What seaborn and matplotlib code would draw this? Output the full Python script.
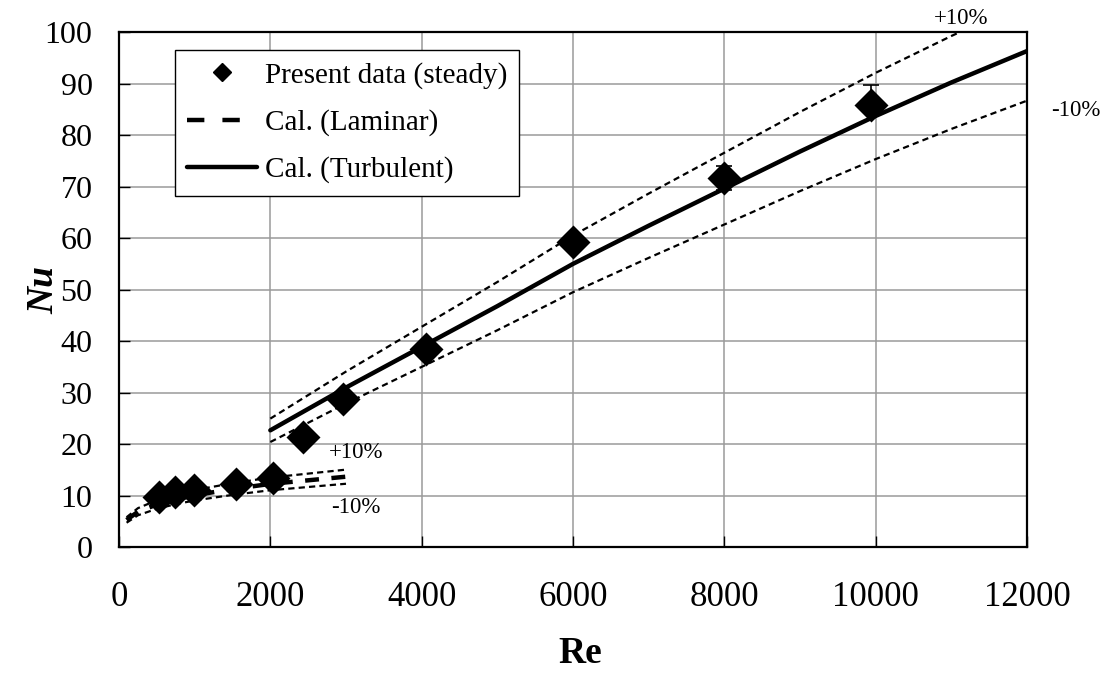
import numpy as np
import matplotlib
matplotlib.use("Agg")
import matplotlib.pyplot as plt
from matplotlib.lines import Line2D
import seaborn as sns

# ---- data ----
re_data = [530, 740, 985, 1545, 2035, 2430, 2960, 4060, 6000, 8000, 9940]
nu_data = [9.8, 10.8, 11.2, 12.3, 13.5, 21.4, 28.7, 38.4, 59.2, 71.7, 85.9]
nu_err_low = [0.0, 0.0, 0.0, 0.0, 0.0, 0.0, 0.0, 0.0, 0.0, 2.4, 1.5]
nu_err_high = [0.0, 0.0, 0.0, 0.0, 0.0, 0.0, 0.0, 0.0, 0.0, 2.3, 3.8]

re_lam = [100, 250, 500, 750, 1000, 1500, 2000, 2500, 3000]
nu_lam = [5.3, 6.9, 8.3, 9.3, 10.1, 11.3, 12.3, 13.0, 13.7]

re_turb = [2000, 3000, 4000, 5000, 6000, 7000, 8000, 9000, 10000, 11000, 12000]
nu_turb = [22.7, 31.0, 38.9, 46.8, 55.0, 62.4, 69.6, 76.8, 83.7, 90.2, 96.3]

band = 0.10  # +/-10 % bands around the correlations

x_ticks = [0, 2000, 4000, 6000, 8000, 10000, 12000]
y_ticks = [0, 10, 20, 30, 40, 50, 60, 70, 80, 90, 100]

legend_labels = ["Present data (steady)", "Cal. (Laminar)", "Cal. (Turbulent)"]

# ---- style ----
sns.set_theme(style="whitegrid")
plt.rcParams["font.family"] = ["Liberation Serif", "DejaVu Serif"]
plt.rcParams["lines.scale_dashes"] = False
plt.rcParams["text.color"] = "black"
plt.rcParams["axes.labelcolor"] = "black"
plt.rcParams["xtick.color"] = "black"
plt.rcParams["ytick.color"] = "black"

fig = plt.figure(figsize=(11.07, 6.75), dpi=100)
ax = fig.add_axes([0.1075, 0.1892, 0.8202, 0.7634])

re_lam_a = np.array(re_lam)
nu_lam_a = np.array(nu_lam)
re_turb_a = np.array(re_turb)
nu_turb_a = np.array(nu_turb)

thin = dict(color="black", lw=1.6, linestyle=(0, (4.5, 3.0)))

# +/-10% bands (laminar)
sns.lineplot(x=re_lam_a, y=nu_lam_a * (1 + band), ax=ax, **thin)
sns.lineplot(x=re_lam_a, y=nu_lam_a * (1 - band), ax=ax, **thin)
# +/-10% bands (turbulent)
sns.lineplot(x=re_turb_a, y=nu_turb_a * (1 + band), ax=ax, **thin)
sns.lineplot(x=re_turb_a, y=nu_turb_a * (1 - band), ax=ax, **thin)

# correlations
sns.lineplot(x=re_lam_a, y=nu_lam_a, ax=ax, color="black", lw=3.2,
             linestyle=(0, (10, 9)))
sns.lineplot(x=re_turb_a, y=nu_turb_a, ax=ax, color="black", lw=3.2)

# error bars + data
lo = np.array(nu_err_low)
hi = np.array(nu_err_high)
mask = (lo + hi) > 0
ax.errorbar(np.array(re_data)[mask], np.array(nu_data)[mask],
            yerr=[lo[mask], hi[mask]],
            fmt="none", ecolor="black", elinewidth=1.2, capsize=6, capthick=1.2,
            zorder=4)
sns.scatterplot(x=re_data, y=nu_data, ax=ax, marker="D", s=300, color="black",
                edgecolor="black", linewidth=0, zorder=5)

# annotations
ax.text(3140, 18.3, "+10%", fontsize=16.5, ha="center", va="center")
ax.text(3130, 7.8, "-10%", fontsize=16.5, ha="center", va="center")
ax.text(11130, 102.6, "+10%", fontsize=16.5, ha="center", va="center", clip_on=False)
ax.text(12650, 84.8, "-10%", fontsize=16.5, ha="center", va="center", clip_on=False)

# axes
ax.set_xlim(0, 12000)
ax.set_ylim(0, 100)
ax.set_xticks(x_ticks)
ax.set_yticks(y_ticks)
ax.set_xticklabels([str(v) for v in x_ticks], fontsize=25)
ax.set_yticklabels([str(v) for v in y_ticks], fontsize=23)
ax.tick_params(axis="x", direction="in", length=8, width=1.0, color="black", pad=24,
               bottom=True)
ax.tick_params(axis="y", direction="in", length=8, width=1.0, color="black", pad=19,
               left=True)
ax.grid(True, color="#9a9a9a", lw=1.1)
for sp in ax.spines.values():
    sp.set_color("black")
    sp.set_linewidth(1.6)

ax.set_xlabel("Re", fontsize=27, fontweight="bold")
ax.xaxis.set_label_coords(0.508, -0.172)
ax.set_ylabel("Nu", fontsize=27, fontweight="bold", fontstyle="italic")
ax.yaxis.set_label_coords(-0.0826, 0.5)
ax.yaxis.label.set_va("center")

handles = [
    Line2D([], [], marker="D", color="black", linestyle="none", markersize=9),
    Line2D([], [], color="black", lw=3.2, linestyle=(0, (12.5, 13))),
    Line2D([], [], color="black", lw=3.2),
]
leg = ax.legend(handles, legend_labels, loc="upper left",
                bbox_to_anchor=(0.0617, 0.966), borderaxespad=0, fontsize=21,
                frameon=True, fancybox=False, framealpha=1, edgecolor="black",
                handlelength=2.4, handletextpad=0.25, labelspacing=0.7,
                borderpad=0.42)
leg.get_frame().set_linewidth(1.0)
for t in leg.get_texts():
    t.set_color("black")

fig.savefig("out.png", dpi=100)
